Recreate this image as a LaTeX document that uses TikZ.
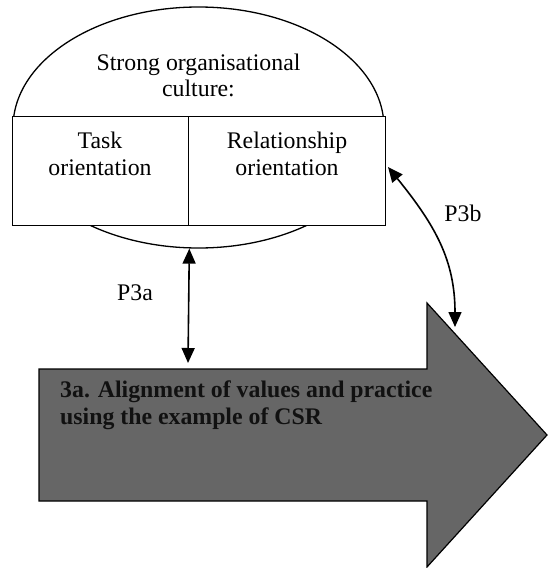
\documentclass[tikz,border=0pt]{standalone}
\usepackage{fontspec}
\setmainfont{Liberation Serif}
\usetikzlibrary{arrows.meta,shapes.geometric}
\definecolor{arrowgray}{HTML}{666666}
\definecolor{inktext}{HTML}{111111}
\begin{document}
\begin{tikzpicture}[x=1pt,y=-1pt,
  outline/.style={draw=black,line width=1.3pt},
  txt/.style={font=\fontsize{23.8}{27}\selectfont,inner sep=0pt,align=center},
  link/.style={line width=1.6pt,
    {Triangle[length=15pt,width=13pt]}-{Triangle[length=15pt,width=13pt]}}]
\useasboundingbox (0,0) rectangle (547,568);

% culture ellipse with the two orientation cells laid over it
\node[outline,ellipse,minimum width=371pt,minimum height=241pt,inner sep=0pt]
  (culture) at (198.5,127.5) {};
\node[txt,anchor=north,font=\fontsize{23.8}{25.5}\selectfont]
  (culturetext) at (198.5,54) {Strong organisational\\culture:};
\node[outline,fill=white,rectangle,inner sep=0pt,anchor=north west,
  minimum width=176pt,minimum height=109pt] (task) at (12,116) {};
\node[outline,fill=white,rectangle,inner sep=0pt,anchor=north west,
  minimum width=197pt,minimum height=109pt] (rel) at (188,116) {};
\node[txt,anchor=north] (tasktext) at (100,132) {Task\\orientation};
\node[txt,anchor=north] (reltext) at (287,132) {Relationship\\orientation};

% block arrow for outcome 3a
\draw[outline,line width=1.2pt,fill=arrowgray]
  (39,369) -- (427,369) -- (427,303) -- (547,435) -- (427,567)
  -- (427,501) -- (39,501) -- cycle;
\node[txt,align=left,anchor=north west,text=inktext,
  font=\fontsize{23.8}{27}\selectfont\bfseries] (aligntext) at (60,381)
  {3a. Alignment of values and practice\\using the example of CSR};

% connector end points on the block arrow and beside the cells
\coordinate (p3aend) at (188,363);
\coordinate (p3bstart) at (388,167);
\coordinate (p3bend) at (455,327);

\draw[link] (culture.south -| task.east) -- (p3aend);
\draw[link] (p3bstart) .. controls (435,225) and (455,260) .. (p3bend);

\node[txt] (p3a) at (135,293) {P3a};
\node[txt] (p3b) at (463,213) {P3b};
\end{tikzpicture}
\end{document}
